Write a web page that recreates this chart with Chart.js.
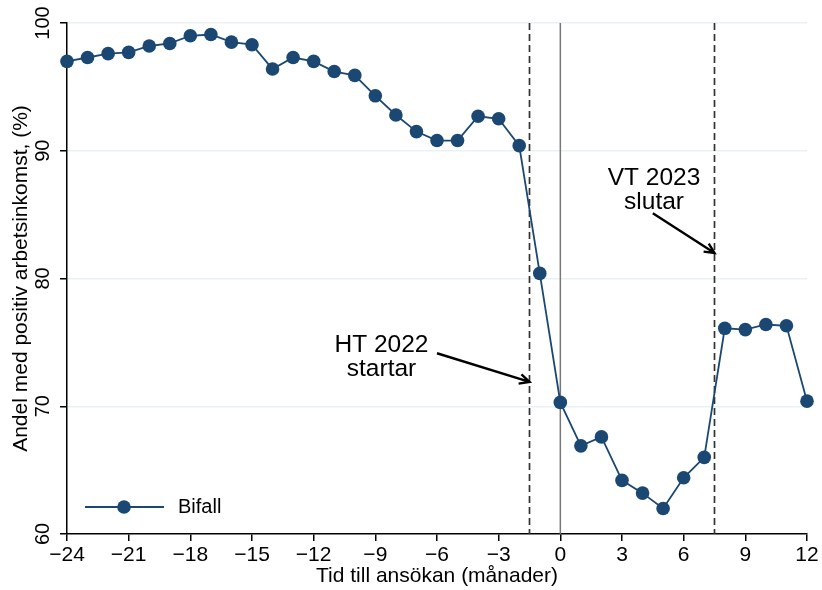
<!DOCTYPE html>
<html>
<head>
<meta charset="utf-8">
<script src="https://cdn.jsdelivr.net/npm/chart.js@4/dist/chart.umd.min.js"></script>
<style>
  html, body { margin: 0; padding: 0; background: #fff; }
  #wrap { width: 822px; height: 590px; }
</style>
</head>
<body>
<div id="wrap"><canvas id="chart"></canvas></div>
<script>
// months relative to application
const months = [-24, -23, -22, -21, -20, -19, -18, -17, -16, -15, -14, -13, -12,
  -11, -10, -9, -8, -7, -6, -5, -4, -3, -2, -1, 0, 1, 2, 3, 4, 5, 6, 7, 8, 9, 10, 11, 12];
// share with positive work income (%)
const bifall = [97.0, 97.3, 97.6, 97.7, 98.2, 98.4, 99.0, 99.1, 98.5, 98.3, 96.4, 97.3, 97.0,
  96.2, 95.9, 94.3, 92.8, 91.5, 90.8, 90.8, 92.7, 92.5, 90.4, 80.4, 70.3, 66.9, 67.6, 64.2,
  63.2, 62.0, 64.4, 66.0, 76.1, 76.0, 76.4, 76.3, 70.4];
const yTicks = [60, 70, 80, 90, 100];
const dashedLines = [-1.5, 7.5];
const solidLine = 0;
const notes = [
  { lines: ['HT 2022', 'startar'], at: [-8.7, 74.25], from: [-6.0, 74.15], to: [-1.5, 71.9] },
  { lines: ['VT 2023', 'slutar'], at: [4.56, 87.3], from: [4.5, 85.1], to: [7.5, 82.0] }
];

const FONT = '"Liberation Sans", Arial, Helvetica, sans-serif';
const navy = '#1a4873';
const fmt = v => (v < 0 ? '\u2212' + Math.abs(v) : String(v));

const extras = {
  id: 'extras',
  beforeDatasetsDraw(chart) {
    const { ctx, chartArea: a, scales: { x } } = chart;
    ctx.save();
    ctx.strokeStyle = '#777';
    ctx.lineWidth = 1.5;
    ctx.beginPath();
    ctx.moveTo(x.getPixelForValue(solidLine), a.top);
    ctx.lineTo(x.getPixelForValue(solidLine), a.bottom);
    ctx.stroke();
    ctx.strokeStyle = '#333';
    ctx.lineWidth = 1.7;
    ctx.setLineDash([7, 4]);
    dashedLines.forEach(v => {
      const px = x.getPixelForValue(v);
      ctx.beginPath();
      ctx.moveTo(px, a.top);
      ctx.lineTo(px, a.bottom);
      ctx.stroke();
    });
    ctx.restore();
  },
  afterDraw(chart) {
    const { ctx, chartArea: a, scales: { x, y } } = chart;
    ctx.save();
    ctx.fillStyle = '#000';
    // y tick labels, rotated
    ctx.font = '20px ' + FONT;
    ctx.textAlign = 'center';
    ctx.textBaseline = 'alphabetic';
    yTicks.forEach(v => {
      ctx.save();
      ctx.translate(a.left - 18, y.getPixelForValue(v));
      ctx.rotate(-Math.PI / 2);
      ctx.fillText(String(v), 0, 0);
      ctx.restore();
    });
    // axis titles
    ctx.font = '21px ' + FONT;
    ctx.save();
    ctx.translate(27, (a.top + a.bottom) / 2);
    ctx.rotate(-Math.PI / 2);
    ctx.fillText('Andel med positiv arbetsinkomst, (%)', 0, 0);
    ctx.restore();
    ctx.fillText('Tid till ansökan (månader)', (a.left + a.right) / 2, 582);

    // notes with arrows
    ctx.font = '24.5px ' + FONT;
    notes.forEach(n => {
      const cx = x.getPixelForValue(n.at[0]);
      const cy = y.getPixelForValue(n.at[1]);
      n.lines.forEach((t, i) => ctx.fillText(t, cx, cy + i * 24));
      const x0 = x.getPixelForValue(n.from[0]), y0 = y.getPixelForValue(n.from[1]);
      const x1 = x.getPixelForValue(n.to[0]), y1 = y.getPixelForValue(n.to[1]);
      ctx.strokeStyle = '#000';
      ctx.lineWidth = 2.4;
      ctx.beginPath();
      ctx.moveTo(x0, y0);
      ctx.lineTo(x1, y1);
      const ang = Math.atan2(y1 - y0, x1 - x0);
      ctx.moveTo(x1 - 11 * Math.cos(ang - 0.45), y1 - 11 * Math.sin(ang - 0.45));
      ctx.lineTo(x1, y1);
      ctx.lineTo(x1 - 11 * Math.cos(ang + 0.45), y1 - 11 * Math.sin(ang + 0.45));
      ctx.stroke();
    });

    // legend
    const ly = 507;
    ctx.strokeStyle = navy;
    ctx.lineWidth = 1.8;
    ctx.beginPath();
    ctx.moveTo(85, ly);
    ctx.lineTo(164, ly);
    ctx.stroke();
    ctx.fillStyle = navy;
    ctx.beginPath();
    ctx.arc(124, ly, 6.8, 0, Math.PI * 2);
    ctx.fill();
    ctx.fillStyle = '#000';
    ctx.font = '20px ' + FONT;
    ctx.textAlign = 'left';
    ctx.textBaseline = 'middle';
    ctx.fillText(chart.data.datasets[0].label, 178, ly);
    ctx.restore();
  }
};

new Chart(document.getElementById('chart'), {
  type: 'line',
  data: {
    labels: months,
    datasets: [{
      label: 'Bifall',
      data: months.map((m, i) => ({ x: m, y: bifall[i] })),
      borderColor: navy,
      backgroundColor: navy,
      borderWidth: 1.8,
      pointRadius: 6.8,
      pointHoverRadius: 6.8,
      pointBorderWidth: 0,
      tension: 0,
      clip: false
    }]
  },
  options: {
    responsive: true,
    maintainAspectRatio: false,
    animation: false,
    layout: { padding: { left: 0, right: 15, top: 23, bottom: 0 } },
    plugins: { legend: { display: false }, tooltip: { enabled: false } },
    scales: {
      x: {
        type: 'linear',
        min: -24,
        max: 12,
        border: { color: '#000', width: 1.5 },
        grid: { drawOnChartArea: false, drawTicks: true, tickLength: 7, tickColor: '#000', lineWidth: 1.5 },
        ticks: {
          stepSize: 3,
          color: '#000',
          padding: 2,
          font: { family: FONT, size: 21 },
          maxRotation: 0,
          callback: v => fmt(v)
        },
        afterFit: s => { s.height = 56; }
      },
      y: {
        min: 60,
        max: 100,
        border: { color: '#000', width: 1.5 },
        grid: {
          color: c => (c.tick.value === 60 ? 'rgba(0,0,0,0)' : '#e8f1f3'),
          lineWidth: 1.5,
          tickLength: 7,
          tickColor: '#000'
        },
        ticks: { stepSize: 10, display: false },
        afterFit: s => { s.width = 67; }
      }
    }
  },
  plugins: [extras]
});
</script>
</body>
</html>
